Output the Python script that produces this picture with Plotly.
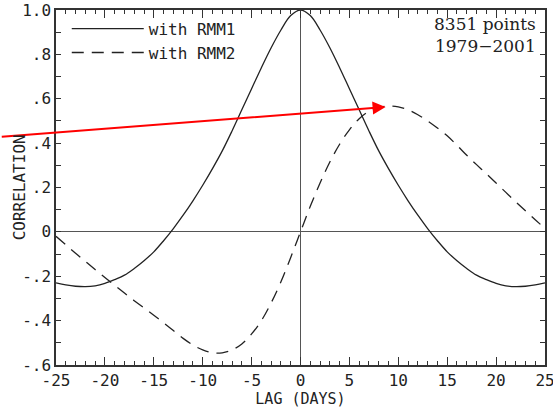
import plotly.graph_objects as go

lags = list(range(-25, 26))
rmm1_half = [1.0, 0.975, 0.91, 0.83, 0.74, 0.645, 0.55, 0.455, 0.365, 0.285, 0.21,
             0.14, 0.075, 0.015, -0.04, -0.09, -0.13, -0.165, -0.195, -0.215,
             -0.232, -0.243, -0.247, -0.245, -0.239, -0.23]
with_rmm1 = rmm1_half[::-1] + rmm1_half[1:]
with_rmm2 = [-0.02, -0.058, -0.096, -0.133, -0.17, -0.206, -0.241, -0.276, -0.31,
             -0.343, -0.376, -0.41, -0.445, -0.48, -0.51, -0.532, -0.545, -0.545,
             -0.532, -0.505, -0.46, -0.40, -0.32, -0.225, -0.115, 0.0, 0.115, 0.22,
             0.315, 0.395, 0.46, 0.51, 0.543, 0.56, 0.567, 0.563, 0.55, 0.528, 0.50,
             0.468, 0.433, 0.39, 0.345, 0.303, 0.262, 0.22, 0.178, 0.136, 0.095, 0.055, 0.015]

ytick_vals = [-0.6, -0.5, -0.4, -0.3, -0.2, -0.1, 0, 0.1, 0.2, 0.3, 0.4, 0.5, 0.6, 0.7, 0.8, 0.9, 1.0]
ytick_text = ["-.6", "", "-.4", "", "-.2", "", "0", "", ".2", "", ".4", "", ".6", "", ".8", "", "1.0"]
xtick_vals = [-25, -20, -15, -10, -5, 0, 5, 10, 15, 20, 25]
xtick_text = [str(v) for v in xtick_vals]

mono = "DejaVu Sans Mono"
ink = "#333333"

fig = go.Figure()
fig.add_trace(go.Scatter(x=lags, y=with_rmm1, mode="lines", name="with RMM1",
                         line=dict(color="#222222", width=1.3, shape="spline")))
fig.add_trace(go.Scatter(x=lags, y=with_rmm2, mode="lines", name="with RMM2",
                         line=dict(color="#222222", width=1.3, shape="spline", dash="12px,8px")))

fig.add_annotation(x=8.7, y=0.563, ax=-30.7, ay=0.428, axref="x", ayref="y",
                   xref="x", yref="y", showarrow=True, arrowhead=2, arrowsize=1.3,
                   arrowwidth=2, arrowcolor="#ff0000", text="")
fig.add_annotation(xref="paper", yref="paper", x=0.985, y=0.995, xanchor="right", yanchor="top",
                   text="8351 points<br>1979\u22122001", showarrow=False, align="right",
                   font=dict(family="DejaVu Serif, serif", size=17, color="#222222"))
# y-axis title placed as rotated text (closer to the tick labels than plotly's margin logic allows)
fig.add_annotation(xref="paper", yref="paper", x=-0.074, y=0.5, xanchor="center", yanchor="middle",
                   text="CORRELATION", textangle=-90, showarrow=False,
                   font=dict(family=mono, size=16, color="#222222"))

axis_common = dict(showline=True, linecolor=ink, linewidth=1.5, mirror="ticks",
                   ticks="inside", tickcolor=ink, showgrid=False, automargin=False,
                   ticklabeloverflow="allow",
                   zeroline=True, zerolinecolor="#555555", zerolinewidth=1,
                   tickfont=dict(family=mono, size=16, color="#222222"),
                   title_font=dict(family=mono, size=15, color="#222222"))

fig.update_xaxes(range=[-25, 25], tickvals=xtick_vals, ticktext=xtick_text, ticklen=8,
                 minor=dict(dtick=1, ticklen=4, ticks="inside", tickcolor=ink),
                 title_text="LAG (DAYS)", title_standoff=2, **axis_common)
fig.update_yaxes(range=[-0.6, 1.0], tickvals=ytick_vals, ticktext=ytick_text, ticklen=5,
                 **axis_common)

fig.update_layout(width=553, height=411, margin=dict(l=56, r=8, t=10, b=46),
                  plot_bgcolor="white", paper_bgcolor="white",
                  legend=dict(x=0.022, y=0.995, xanchor="left", yanchor="top",
                              itemwidth=72, bgcolor="rgba(0,0,0,0)", tracegroupgap=0,
                              font=dict(family=mono, size=16, color="#222222")),
                  showlegend=True)

fig.write_html("out.html", config={"displayModeBar": False},
               post_script="document.body.style.margin='0';document.body.style.overflow='hidden';")
